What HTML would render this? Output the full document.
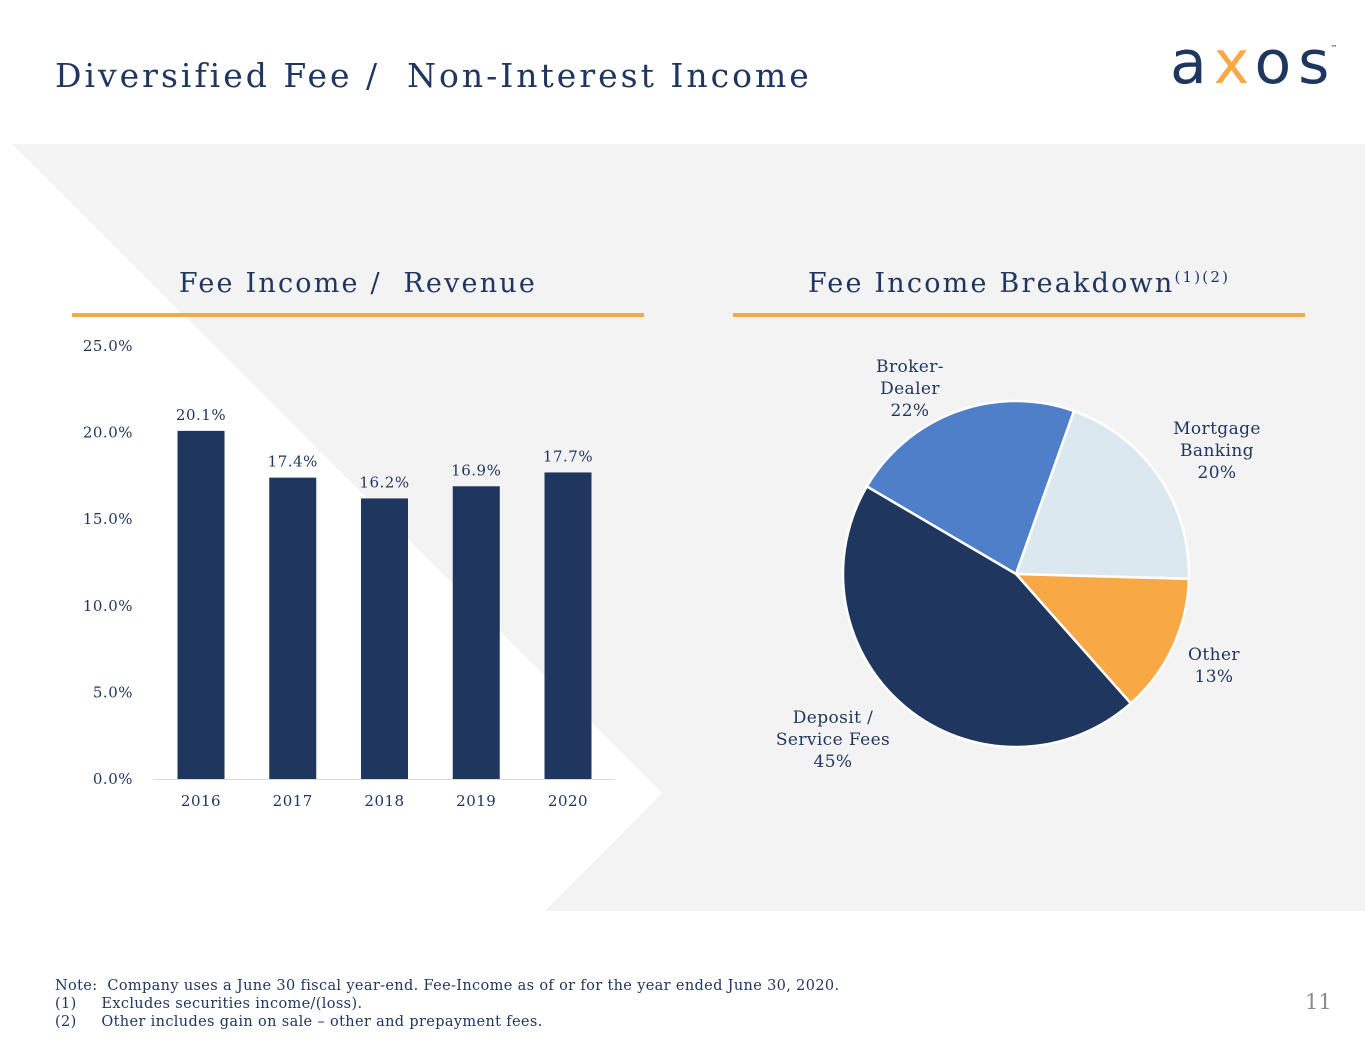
<!DOCTYPE html>
<html><head><meta charset="utf-8"><style>
body{margin:0;width:1365px;height:1055px;overflow:hidden;background:#fff;font-family:"DejaVu Serif","Liberation Serif",serif;color:#1f3660;position:relative}
.abs{position:absolute}
svg text{font-family:"DejaVu Serif","Liberation Serif",serif}
</style></head><body>
<svg class="abs" style="left:0;top:0" width="1365" height="1055">
<rect x="12" y="144" width="1353" height="767" fill="#f3f3f3"/>
<polygon points="0,144 12,144 662,793 545,911 0,911" fill="#fff"/>
</svg>
<div class="abs" style="left:55px;top:56px;font-size:33px;letter-spacing:3px;white-space:nowrap">Diversified Fee / &nbsp;Non-Interest Income</div>
<div class="abs" style="left:1170px;top:28px;font-family:'DejaVu Sans',sans-serif;font-size:60px;letter-spacing:7px;color:#1f3660;white-space:nowrap">a<span style="color:#f9a846">x</span>os<span style="font-size:7px;vertical-align:top;position:relative;top:16px;left:-6px">™</span></div>
<div class="abs" style="left:72px;width:572px;top:268px;text-align:center;font-size:27px;letter-spacing:2.2px">Fee Income / &nbsp;Revenue</div>
<div class="abs" style="left:733px;width:572px;top:268px;text-align:center;font-size:27px;letter-spacing:2.2px">Fee Income Breakdown<sup style="font-size:15px">(1)(2)</sup></div>
<div class="abs" style="left:72px;top:313px;width:572px;height:4px;background:#f9a846"></div>
<div class="abs" style="left:733px;top:313px;width:572px;height:4px;background:#f9a846"></div>
<svg class="abs" id="bar" style="left:0;top:0" width="700" height="900"></svg>
<svg class="abs" id="pie" style="top:0;left:700px" width="665" height="900"></svg>
<div class="abs" style="left:55px;top:977px;font-size:14.5px;letter-spacing:0.35px;line-height:18px;white-space:nowrap">
Note: &nbsp;Company uses a June 30 fiscal year-end. Fee-Income as of or for the year ended June 30, 2020.<br>
(1)&nbsp;&nbsp;&nbsp;&nbsp;&nbsp;Excludes securities income/(loss).<br>
(2)&nbsp;&nbsp;&nbsp;&nbsp;&nbsp;Other includes gain on sale – other and prepayment fees.</div>
<div class="abs" style="left:1305px;top:990px;font-size:21px;color:#8a8a8a">11</div>
<script>
const years=["2016","2017","2018","2019","2020"];
const ratios=[20.1,17.4,16.2,16.9,17.7];
const yTicks=[0,5,10,15,20,25];
const pieLabels=[["Broker-","Dealer","22%"],["Mortgage","Banking","20%"],["Other","13%"],["Deposit /","Service Fees","45%"]];
const pieValues=[22,20,13,45];
const NS="http://www.w3.org/2000/svg";
function mk(p,t,a,txt){const e=document.createElementNS(NS,t);for(const k in a)e.setAttribute(k,a[k]);if(txt!=null)e.textContent=txt;p.appendChild(e);return e;}
const bar=document.getElementById('bar');
const y=v=>779-v*17.32, x=i=>201+i*91.75;
yTicks.forEach(t=>{const e=mk(bar,'text',{x:133,y:y(t)+5,'text-anchor':'end','font-size':15,'letter-spacing':0.5,fill:'#1f3660'},t.toFixed(1)+'%');

});
const ax=mk(bar,'line',{x1:154,x2:614,y1:779.5,y2:779.5,stroke:'#d9d9d9'});


years.forEach((yr,i)=>{const v=ratios[i];
const r=mk(bar,'rect',{x:x(i)-23.5,y:y(v),width:47,height:y(0)-y(v),fill:'#1f365e'});


const l=mk(bar,'text',{x:x(i),y:y(v)-11,'text-anchor':'middle','font-size':15,'letter-spacing':0.5,fill:'#1f3660'},v.toFixed(1)+'%');


const c=mk(bar,'text',{x:x(i),y:806,'text-anchor':'middle','font-size':15,'letter-spacing':0.5,fill:'#1f3660'},yr);

});
const pie=document.getElementById('pie');
const cx=316,cy=574,R=173;const cols=['#4f7fc8','#dce8ef','#f9a846','#1f365e'];
const tot=pieValues.reduce((a,b)=>a+b,0);let a0=-59.6;
const lpos=[[210,394],[517,456],[514,671],[133,745]];
pieValues.forEach((v,i)=>{const a1=a0+v/tot*360;const rad=d=>d*Math.PI/180;
const p=`M${cx},${cy}L${cx+R*Math.sin(rad(a0))},${cy-R*Math.cos(rad(a0))}A${R},${R} 0 ${a1-a0>180?1:0} 1 ${cx+R*Math.sin(rad(a1))},${cy-R*Math.cos(rad(a1))}Z`;
const s=mk(pie,'path',{d:p,fill:cols[i],stroke:'#fff','stroke-width':2.5});


a0=a1;
const lines=pieLabels[i];const t=mk(pie,'text',{'text-anchor':'middle','font-size':17,'letter-spacing':0.4,fill:'#1f3660'});


lines.forEach((ln,j)=>mk(t,'tspan',{x:lpos[i][0],y:lpos[i][1]-(lines.length-1)*11+j*22},ln));});
</script>
</body></html>
